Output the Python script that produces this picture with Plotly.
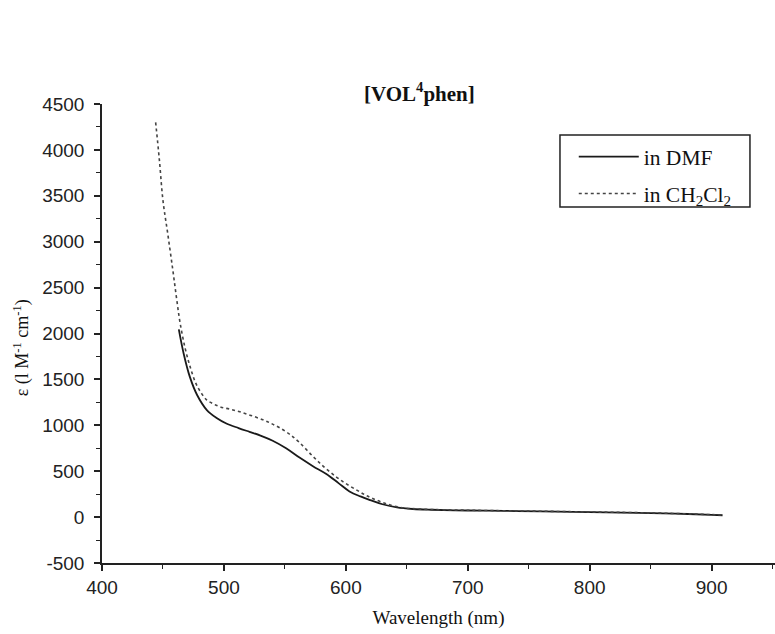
import plotly.graph_objects as go

# Data
dmf_wl = [463, 467, 472, 478, 486, 494, 502, 512, 521, 530, 540, 551, 562, 573, 584, 594, 603, 612, 620, 630, 642, 655, 670, 700, 730, 760, 800, 840, 870, 900, 909]
dmf_eps = [2045, 1780, 1530, 1330, 1166, 1080, 1020, 970, 929, 888, 832, 750, 648, 555, 470, 370, 280, 225, 185, 140, 105, 88, 80, 72, 68, 62, 55, 47, 38, 25, 20]

ch_wl = [444, 447, 450, 454, 458, 461, 464, 468, 472, 477, 482, 486, 491, 497, 505, 513, 522, 532, 538, 545, 554, 562, 573, 582, 592, 600, 609, 616, 622, 632, 645, 660, 700, 750, 800, 850, 900, 909]
ch_eps = [4300, 3900, 3450, 3080, 2700, 2400, 2120, 1850, 1650, 1456, 1340, 1275, 1235, 1201, 1175, 1147, 1108, 1060, 1025, 978, 902, 812, 662, 548, 439, 365, 294, 240, 203, 150, 105, 88, 75, 66, 56, 46, 27, 22]

x_ticks = [400, 500, 600, 700, 800, 900]
y_ticks = [-500, 0, 500, 1000, 1500, 2000, 2500, 3000, 3500, 4000, 4500]
y_labels = ["-500", "0", "500", "1000", "1500", "2000", "2500", "3000", "3500", "4000", "4500"]

serif = "Liberation Serif, Times New Roman, serif"
sans = "Liberation Sans, Arial, sans-serif"

fig = go.Figure()
fig.add_trace(go.Scatter(x=dmf_wl, y=dmf_eps, mode="lines", name="in DMF", legendgroup="a",
                         line=dict(color="#1a1a1a", width=1.8, shape="spline")))
fig.add_trace(go.Scatter(x=ch_wl, y=ch_eps, mode="lines", name="in CH<sub>2</sub>Cl<sub>2</sub>", legendgroup="b",
                         line=dict(color="#444444", width=1.6, dash="dot", shape="spline")))

fig.update_layout(
    width=775, height=634,
    margin=dict(l=102, r=0, t=104, b=71),
    paper_bgcolor="white", plot_bgcolor="white",
    showlegend=True,
    legend=dict(x=0.701, y=0.93, xanchor="left", yanchor="top",
                borderwidth=0, bgcolor="rgba(0,0,0,0)",
                font=dict(family=serif, size=21.5, color="#111"),
                tracegroupgap=6, itemwidth=60),
    shapes=[dict(type="rect", xref="paper", yref="paper",
                 x0=0.6805, x1=0.9628, y0=0.7756, y1=0.9325,
                 line=dict(color="#222", width=1.5), fillcolor="rgba(0,0,0,0)", layer="above")],
    annotations=[dict(text="<b>[VOL<sup>4</sup>phen]</b>", xref="paper", yref="paper",
                      x=0.4725, y=1.024, xanchor="center", yanchor="middle", showarrow=False,
                      font=dict(family=serif, size=21, color="#111")),
                 dict(text="ε (l M<sup>-1</sup> cm<sup>-1</sup>)", xref="paper", yref="paper",
                      x=0, y=0.468, xshift=-80, xanchor="center", yanchor="middle", showarrow=False,
                      textangle=-90, font=dict(family=serif, size=18, color="#111"))],
)
fig.update_xaxes(range=[400, 952], tickvals=x_ticks, ticks="outside", ticklen=6, tickwidth=1.5,
                 minor=dict(dtick=50, ticks="outside", ticklen=4, tickwidth=1.2, tickcolor="#222"),
                 showline=True, linecolor="#222", linewidth=1.5, tickcolor="#222",
                 showgrid=False, zeroline=False, automargin=False,
                 tickfont=dict(family=sans, size=19, color="#222"),
                 title=dict(text="Wavelength (nm)", font=dict(family=serif, size=19, color="#111"), standoff=14))
fig.update_yaxes(range=[-500, 4500], tickvals=y_ticks, ticktext=y_labels, ticks="outside", ticklen=6, tickwidth=1.5,
                 minor=dict(dtick=250, ticks="outside", ticklen=4, tickwidth=1.2, tickcolor="#222"),
                 showline=True, linecolor="#222", linewidth=1.5, tickcolor="#222",
                 showgrid=False, zeroline=False, automargin=False, ticklabelstandoff=6,
                 tickfont=dict(family=sans, size=19, color="#222"))

fig.write_html("out.html", config={"displayModeBar": False},
               post_script="document.body.style.margin='0px';")
